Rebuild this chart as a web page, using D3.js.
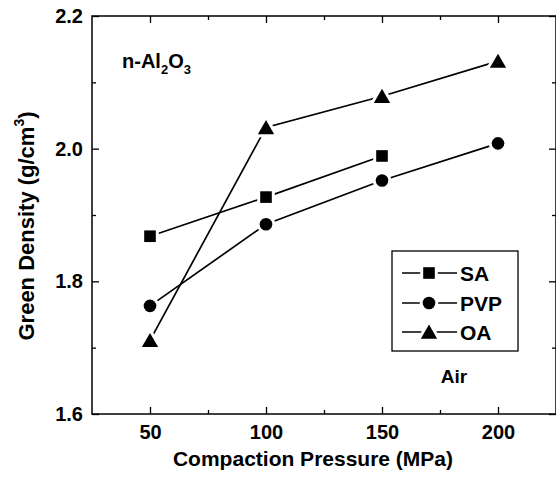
<!DOCTYPE html>
<html>
<head>
<meta charset="utf-8">
<script src="https://cdn.jsdelivr.net/npm/d3@7"></script>
<style>
  body { margin: 0; background: #fff; }
  text { font-family: "Liberation Sans", Arial, sans-serif; font-weight: bold; fill: #000; }
</style>
</head>
<body>
<div id="chart"></div>
<script>
var width = 556;
var height = 477;

// data
var pressures = [50, 100, 150, 200];
var saValues = [1.868, 1.927, 1.989];
var pvpValues = [1.763, 1.886, 1.952, 2.008];
var oaValues = [1.711, 2.032, 2.079, 2.132];
var seriesNames = ["SA", "PVP", "OA"];
var seriesShapes = ["square", "circle", "triangle"];
var xTicks = [50, 100, 150, 200];
var yTicks = [1.6, 1.8, 2.0, 2.2];

var margin = {left: 92, top: 16, right: 0, bottom: 63};

var svg = d3.select("#chart").append("svg")
  .attr("width", width)
  .attr("height", height);

var x = d3.scaleLinear().domain([25, 225]).range([margin.left, width - margin.right]);
var y = d3.scaleLinear().domain([1.6, 2.2]).range([height - margin.bottom, margin.top]);

var x0 = x.range()[0], x1 = x.range()[1];
var y0 = y.range()[0], y1 = y.range()[1];

// frame
svg.append("rect")
  .attr("x", x0).attr("y", y1)
  .attr("width", x1 - x0).attr("height", y0 - y1)
  .attr("fill", "none").attr("stroke", "#000").attr("stroke-width", 1.5);

// minor ticks
var xMinor = [75, 125, 175];
var yMinor = [1.7, 1.9, 2.1];

function styleAxis(g) {
  g.select(".domain").remove();
  g.selectAll("line").attr("stroke", "#000").attr("stroke-width", 1.3);
}

// bottom
svg.append("g")
  .attr("transform", "translate(0," + y0 + ")")
  .call(d3.axisBottom(x).tickValues(xTicks).tickSize(-7).tickPadding(11).tickFormat(d3.format("d")))
  .call(styleAxis)
  .call(function(g) {
    g.selectAll("text").attr("font-size", 20).attr("font-family", null);
  });
svg.append("g")
  .attr("transform", "translate(0," + y0 + ")")
  .call(d3.axisBottom(x).tickValues(xMinor).tickSize(-4).tickFormat(""))
  .call(styleAxis);

// top
svg.append("g")
  .attr("transform", "translate(0," + y1 + ")")
  .call(d3.axisTop(x).tickValues(xTicks).tickSize(-7).tickFormat(""))
  .call(styleAxis);
svg.append("g")
  .attr("transform", "translate(0," + y1 + ")")
  .call(d3.axisTop(x).tickValues(xMinor).tickSize(-4).tickFormat(""))
  .call(styleAxis);

// left
svg.append("g")
  .attr("transform", "translate(" + x0 + ",0)")
  .call(d3.axisLeft(y).tickValues(yTicks).tickSize(-7).tickPadding(9).tickFormat(d3.format(".1f")))
  .call(styleAxis)
  .call(function(g) {
    g.selectAll("text").attr("font-size", 20).attr("font-family", null);
  });
svg.append("g")
  .attr("transform", "translate(" + x0 + ",0)")
  .call(d3.axisLeft(y).tickValues(yMinor).tickSize(-4).tickFormat(""))
  .call(styleAxis);

// right
svg.append("g")
  .attr("transform", "translate(" + x1 + ",0)")
  .call(d3.axisRight(y).tickValues(yTicks).tickSize(-7).tickFormat(""))
  .call(styleAxis);
svg.append("g")
  .attr("transform", "translate(" + x1 + ",0)")
  .call(d3.axisRight(y).tickValues(yMinor).tickSize(-4).tickFormat(""))
  .call(styleAxis);

// axis titles
svg.append("text")
  .attr("x", 313).attr("y", 466)
  .attr("text-anchor", "middle")
  .attr("font-size", 21)
  .text("Compaction Pressure (MPa)");

var yTitle = svg.append("text")
  .attr("transform", "translate(34," + 226 + ") rotate(-90)")
  .attr("text-anchor", "middle")
  .attr("font-size", 22);
yTitle.append("tspan").text("Green Density (g/cm");
yTitle.append("tspan").attr("font-size", 14).attr("dy", -10).text("3");
yTitle.append("tspan").attr("dy", 10).text(")");

// n-Al2O3 label
var lab = svg.append("text").attr("x", 122).attr("y", 68).attr("font-size", 20);
lab.append("tspan").text("n-Al");
lab.append("tspan").attr("font-size", 13).attr("dy", 6).text("2");
lab.append("tspan").attr("dy", -6).text("O");
lab.append("tspan").attr("font-size", 13).attr("dy", 6).text("3");

// series
var series = [saValues, pvpValues, oaValues];

var symbolTypes = {
  square: d3.symbolSquare,
  circle: d3.symbolCircle,
  triangle: d3.symbolTriangle
};
var symbolSizes = {square: 135, circle: 125, triangle: 115};

var line = d3.line()
  .x(function(d, i) { return x(pressures[i]); })
  .y(function(d) { return y(d); });

function drawMarker(g, shape, cx, cy) {
  var sym = d3.symbol().type(symbolTypes[shape]).size(symbolSizes[shape]);
  var dy = shape === "triangle" ? 2 : 0;
  g.append("path")
    .attr("d", sym())
    .attr("transform", "translate(" + cx + "," + (cy + dy) + ")")
    .attr("fill", "#000")
    .attr("stroke", "#fff")
    .attr("stroke-width", 6)
    .attr("paint-order", "stroke");
}

series.forEach(function(vals, s) {
  svg.append("path")
    .datum(vals)
    .attr("d", line)
    .attr("fill", "none")
    .attr("stroke", "#000")
    .attr("stroke-width", 1.7);
});
series.forEach(function(vals, s) {
  var g = svg.append("g");
  vals.forEach(function(v, i) {
    drawMarker(g, seriesShapes[s], x(pressures[i]), y(v));
  });
});

// legend
var legend = svg.append("g");
legend.append("rect")
  .attr("x", 392).attr("y", 251)
  .attr("width", 126).attr("height", 100)
  .attr("fill", "#fff").attr("stroke", "#000").attr("stroke-width", 1.3);

var legendRows = [273, 303, 332];
seriesNames.forEach(function(name, s) {
  var ly = legendRows[s];
  legend.append("line")
    .attr("x1", 402).attr("x2", 457)
    .attr("y1", ly).attr("y2", ly)
    .attr("stroke", "#000").attr("stroke-width", 1.3);
  drawMarker(legend, seriesShapes[s], 429, ly);
  legend.append("text")
    .attr("x", 460).attr("y", ly + 8)
    .attr("font-size", 21)
    .text(name);
});

svg.append("text")
  .attr("x", 454).attr("y", 383)
  .attr("text-anchor", "middle")
  .attr("font-size", 19)
  .text("Air");
</script>
</body>
</html>
